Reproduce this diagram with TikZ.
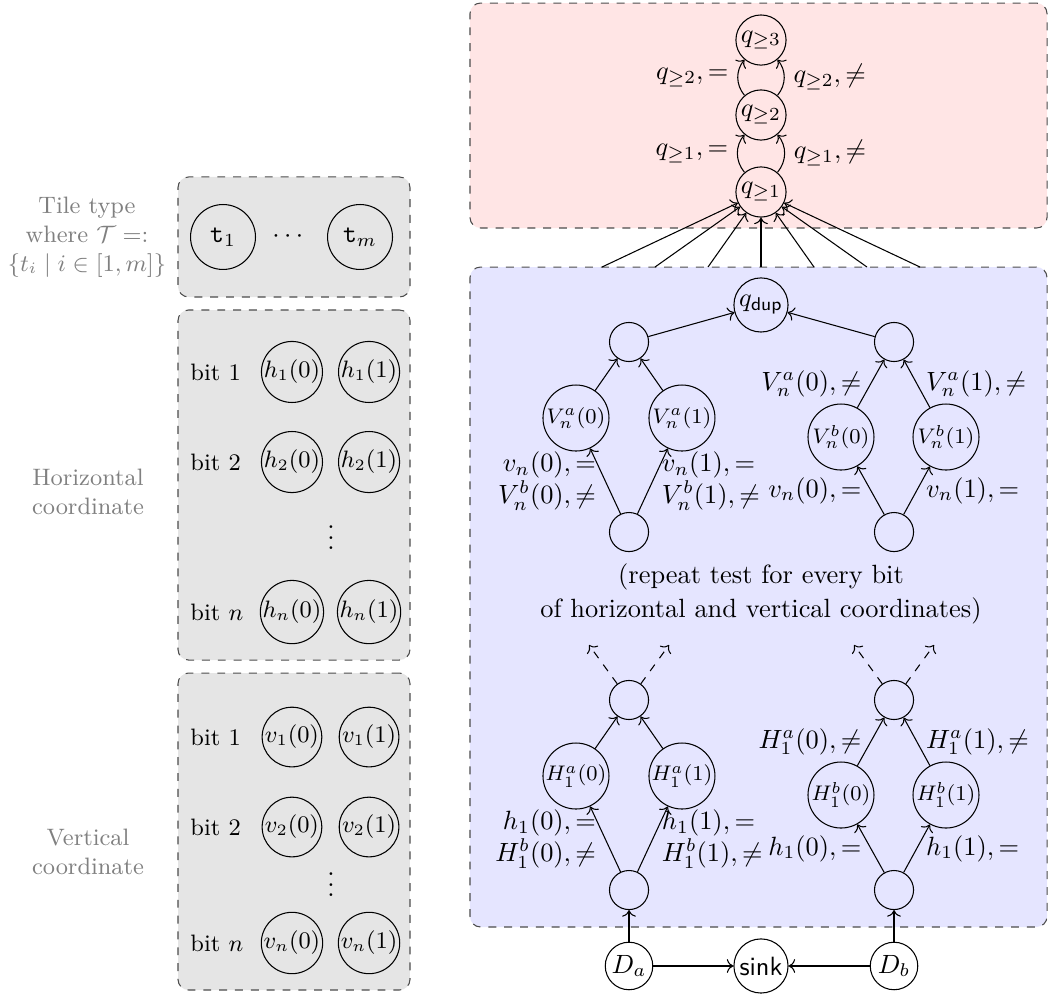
\documentclass[tikz,border=0pt]{standalone}
\usepackage{amsmath}
\usetikzlibrary{positioning}
\usetikzlibrary{arrows.meta}
\tikzset{
    mynode/.style = {circle, draw=black, inner sep=0pt, minimum size=19pt},
    mynoded/.style = {circle, draw=black, inner sep=0pt, minimum size=20.5pt},
    mynodev/.style = {circle, draw=black, inner sep=0pt, minimum size=25pt, font=\footnotesize},
    mynodee/.style = {circle, draw=black, inner sep=0pt, minimum size=14.8pt},
    mynodel/.style = {circle, draw=black, inner sep=0pt, minimum size=22.6pt, font=\small},
    mynodet/.style = {circle, draw=black, inner sep=0pt, minimum size=24.6pt},
    mynodes/.style = {circle, draw=black, inner sep=0pt, minimum size=18pt},
    boxr/.style = {rectangle, rounded corners, dashed, draw=black!70, fill=red!10},
    boxb/.style = {rectangle, rounded corners, dashed, draw=black!70, fill=blue!10},
    boxg/.style = {rectangle, rounded corners, dashed, draw=black!70, fill=gray!20},
    grouplbl/.style = {align=center, text=gray, font=\small},
    bitlbl/.style = {anchor=west, inner sep=0pt, font=\small},
    edgen/.style = {->, black},
    edged/.style = {->, black, dashed}
}

\begin{document}
\begin{tikzpicture}
\useasboundingbox (0,0) rectangle (13.952,-13.220);

% boxes
\node[boxg, minimum width=3.088cm, minimum height=1.598cm] at ( 3.914,  -3.155) (tilebox) {};
\node[boxg, minimum width=3.088cm, minimum height=4.660cm] at ( 3.914,  -6.457) (horbox) {};
\node[boxg, minimum width=3.088cm, minimum height=4.220cm] at ( 3.914, -11.070) (verbox) {};
\node[boxr, minimum width=7.682cm, minimum height=2.995cm] at (10.098,  -1.538) (countbox) {};
\node[boxb, minimum width=7.682cm, minimum height=8.786cm] at (10.098,  -7.948) (testbox) {};

% left side
\node[grouplbl] at ( 1.158,  -3.155) (tilelbl) {Tile type\\where $\mathcal{T} =:$\\$\{t_i \mid i \in [1,m]\}$};
\node[grouplbl] at ( 1.172,  -6.550) (horlbl) {Horizontal\\coordinate};
\node[grouplbl] at ( 1.172, -11.343) (verlbl) {Vertical\\coordinate};

\node[mynodet] at ( 2.969,  -3.155) (t1) {$\mathtt{t}_1$};
\node at ( 3.861,  -3.155) (tdots) {$\cdots$};
\node[mynodet] at ( 4.793,  -3.155) (tm) {$\mathtt{t}_m$};

\node[bitlbl] at ( 2.529,  -4.952) (hb1) {bit $1$};
\node[bitlbl] at ( 2.529,  -6.151) (hb2) {bit $2$};
\node[bitlbl] at ( 2.529,  -8.148) (hbn) {bit $n$};
\node[mynodel] at ( 3.887,  -4.952) (h10) {$h_1(0)$};
\node[mynodel] at ( 4.913,  -4.952) (h11) {$h_1(1)$};
\node[mynodel] at ( 3.887,  -6.151) (h20) {$h_2(0)$};
\node[mynodel] at ( 4.913,  -6.151) (h21) {$h_2(1)$};
\node at ( 4.406,  -7.056) (hdots) {$\vdots$};
\node[mynodel] at ( 3.887,  -8.148) (hn0) {$h_n(0)$};
\node[mynodel] at ( 4.913,  -8.148) (hn1) {$h_n(1)$};

\node[bitlbl] at ( 2.529,  -9.812) (vb1) {bit $1$};
\node[bitlbl] at ( 2.529, -11.010) (vb2) {bit $2$};
\node[bitlbl] at ( 2.529, -12.554) (vbn) {bit $n$};
\node[mynodel] at ( 3.887,  -9.812) (v10) {$v_1(0)$};
\node[mynodel] at ( 4.913,  -9.812) (v11) {$v_1(1)$};
\node[mynodel] at ( 3.887, -11.010) (v20) {$v_2(0)$};
\node[mynodel] at ( 4.913, -11.010) (v21) {$v_2(1)$};
\node at ( 4.406, -11.676) (vdots) {$\vdots$};
\node[mynodel] at ( 3.887, -12.554) (vn0) {$v_n(0)$};
\node[mynodel] at ( 4.913, -12.554) (vn1) {$v_n(1)$};

% counter
\node[mynode] at (10.131,  -0.533) (qge3) {$q_{\geq 3}$};
\node[mynode] at (10.131,  -1.531) (qge2) {$q_{\geq 2}$};
\node[mynode] at (10.131,  -2.556) (qge1) {$q_{\geq 1}$};

\draw[edgen] (qge2) edge[bend left=40] node[left] {$q_{\geq 2}, =$} (qge3);
\draw[edgen] (qge2) edge[bend right=40] node[right] {$q_{\geq 2}, \neq$} (qge3);
\draw[edgen] (qge1) edge[bend left=40] node[left] {$q_{\geq 1}, =$} (qge2);
\draw[edgen] (qge1) edge[bend right=40] node[right] {$q_{\geq 1}, \neq$} (qge2);

\foreach \k [count=\i] in {-3,...,3} {
  \coordinate (src\i) at (10.131+0.7056*\k, -3.555);
  \draw[edgen] (src\i) -- (qge1);
}

% test for v_n
\node[mynoded] at (10.131,  -4.060) (qdup) {$q_{\mathsf{dup}}$};
\node[mynodee] at ( 8.374,  -4.553) (vltop) {};
\node[mynodee] at (11.902,  -4.553) (vrtop) {};
\node[mynodev] at ( 7.668,  -5.565) (va0) {$V^a_n(0)$};
\node[mynodev] at ( 9.079,  -5.565) (va1) {$V^a_n(1)$};
\node[mynodev] at (11.196,  -5.818) (vb0) {$V^b_n(0)$};
\node[mynodev] at (12.594,  -5.818) (vb1) {$V^b_n(1)$};
\node[mynodee] at ( 8.374,  -7.083) (vlbot) {};
\node[mynodee] at (11.902,  -7.083) (vrbot) {};

\draw[edgen] (vltop) edge (qdup);
\draw[edgen] (vrtop) edge (qdup);
\draw[edgen] (va0) edge (vltop);
\draw[edgen] (va1) edge (vltop);
\draw[edgen] (vb0) edge node[left] {$V^a_n(0), \neq$} (vrtop);
\draw[edgen] (vb1) edge node[right] {$V^a_n(1), \neq$} (vrtop);
\draw[edgen] (vlbot) edge node[left, align=right] {$v_n(0), =$\\$V^b_n(0), \neq$} (va0);
\draw[edgen] (vlbot) edge node[right, align=left] {$v_n(1), =$\\$V^b_n(1), \neq$} (va1);
\draw[edgen] (vrbot) edge node[left] {$v_n(0), =$} (vb0);
\draw[edgen] (vrbot) edge node[right] {$v_n(1), =$} (vb1);

\node[align=center] at (10.131, -7.908) (repeat) {(repeat test for every bit\\[1pt]of horizontal and vertical coordinates)};

% test for h_1
\node[mynodee] at ( 8.374,  -9.319) (hltop) {};
\node[mynodee] at (11.902,  -9.319) (hrtop) {};
\node[mynodev] at ( 7.668, -10.331) (ha0) {$H^a_1(0)$};
\node[mynodev] at ( 9.079, -10.331) (ha1) {$H^a_1(1)$};
\node[mynodev] at (11.196, -10.584) (hb0) {$H^b_1(0)$};
\node[mynodev] at (12.594, -10.584) (hb1) {$H^b_1(1)$};
\node[mynodee] at ( 8.374, -11.849) (hlbot) {};
\node[mynodee] at (11.902, -11.849) (hrbot) {};

\coordinate (hlout0) at ( 7.841, -8.587);
\coordinate (hlout1) at ( 8.907, -8.587);
\coordinate (hrout0) at (11.369, -8.587);
\coordinate (hrout1) at (12.435, -8.587);
\draw[edged] (hltop) edge (hlout0);
\draw[edged] (hltop) edge (hlout1);
\draw[edged] (hrtop) edge (hrout0);
\draw[edged] (hrtop) edge (hrout1);

\draw[edgen] (ha0) edge (hltop);
\draw[edgen] (ha1) edge (hltop);
\draw[edgen] (hb0) edge node[left] {$H^a_1(0), \neq$} (hrtop);
\draw[edgen] (hb1) edge node[right] {$H^a_1(1), \neq$} (hrtop);
\draw[edgen] (hlbot) edge node[left, align=right] {$h_1(0), =$\\$H^b_1(0), \neq$} (ha0);
\draw[edgen] (hlbot) edge node[right, align=left] {$h_1(1), =$\\$H^b_1(1), \neq$} (ha1);
\draw[edgen] (hrbot) edge node[left] {$h_1(0), =$} (hb0);
\draw[edgen] (hrbot) edge node[right] {$h_1(1), =$} (hb1);

% start
\node[mynodes] at ( 8.374, -12.860) (da) {$D_a$};
\node[mynoded] at (10.131, -12.860) (sink) {\textsf{sink}};
\node[mynodes] at (11.902, -12.860) (db) {$D_b$};

\draw[edgen] (da) edge (hlbot);
\draw[edgen] (db) edge (hrbot);
\draw[edgen] (da) edge (sink);
\draw[edgen] (db) edge (sink);

\end{tikzpicture}
\end{document}
